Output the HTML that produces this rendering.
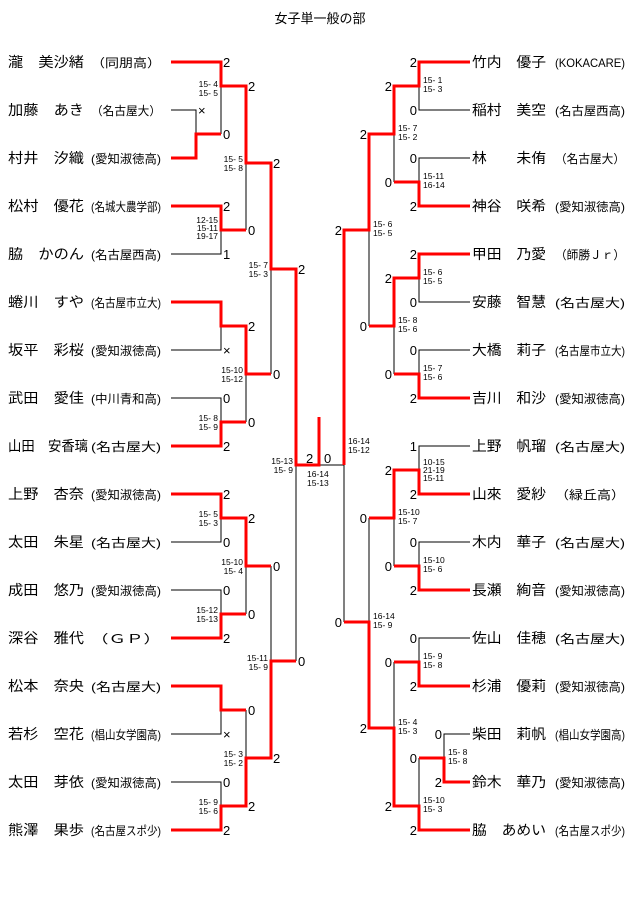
<!DOCTYPE html>
<html><head><meta charset="utf-8"><style>
html,body{margin:0;padding:0;background:#fff;}
svg{display:block;}
text{font-family:"Liberation Sans","Noto Sans CJK JP",sans-serif;fill:#000;}
.n{font-size:14px;}
.a{font-size:12px;}
.s{font-size:13px;}
.l{font-size:8.5px;}
.r{stroke:#f00;stroke-width:3;fill:none;}
.b{stroke:#000;stroke-width:1;fill:none;}
</style></head><body>
<svg width="640" height="897" viewBox="0 0 640 897" xmlns="http://www.w3.org/2000/svg">
<text x="320" y="23" font-size="13" text-anchor="middle">女子単一般の部</text>

<!-- left names -->
<g class="n" lengthAdjust="spacingAndGlyphs">
<text x="8" y="67" textLength="76" lengthAdjust="spacingAndGlyphs">瀧　美沙緒</text>
<text x="8" y="115" textLength="76" lengthAdjust="spacingAndGlyphs">加藤　あき</text>
<text x="8" y="163" textLength="76" lengthAdjust="spacingAndGlyphs">村井　汐織</text>
<text x="8" y="211" textLength="76" lengthAdjust="spacingAndGlyphs">松村　優花</text>
<text x="8" y="259" textLength="76" lengthAdjust="spacingAndGlyphs">脇　かのん</text>
<text x="8" y="307" textLength="76" lengthAdjust="spacingAndGlyphs">蜷川　すや</text>
<text x="8" y="355" textLength="76" lengthAdjust="spacingAndGlyphs">坂平　彩桜</text>
<text x="8" y="403" textLength="76" lengthAdjust="spacingAndGlyphs">武田　愛佳</text>
<text x="8" y="451" textLength="80" lengthAdjust="spacingAndGlyphs">山田　安香璃</text>
<text x="8" y="499" textLength="76" lengthAdjust="spacingAndGlyphs">上野　杏奈</text>
<text x="8" y="547" textLength="76" lengthAdjust="spacingAndGlyphs">太田　朱星</text>
<text x="8" y="595" textLength="76" lengthAdjust="spacingAndGlyphs">成田　悠乃</text>
<text x="8" y="643" textLength="76" lengthAdjust="spacingAndGlyphs">深谷　雅代</text>
<text x="8" y="691" textLength="76" lengthAdjust="spacingAndGlyphs">松本　奈央</text>
<text x="8" y="739" textLength="76" lengthAdjust="spacingAndGlyphs">若杉　空花</text>
<text x="8" y="787" textLength="76" lengthAdjust="spacingAndGlyphs">太田　芽依</text>
<text x="8" y="835" textLength="76" lengthAdjust="spacingAndGlyphs">熊澤　果歩</text>
</g>
<g class="a">
<text x="91" y="67" textLength="70" lengthAdjust="spacingAndGlyphs">（同朋高）</text>
<text x="91" y="115" textLength="70" lengthAdjust="spacingAndGlyphs">（名古屋大）</text>
<text x="91" y="163" textLength="70" lengthAdjust="spacingAndGlyphs">(愛知淑徳高)</text>
<text x="91" y="211" textLength="70" lengthAdjust="spacingAndGlyphs">(名城大農学部)</text>
<text x="91" y="259" textLength="70" lengthAdjust="spacingAndGlyphs">(名古屋西高)</text>
<text x="91" y="307" textLength="70" lengthAdjust="spacingAndGlyphs">(名古屋市立大)</text>
<text x="91" y="355" textLength="70" lengthAdjust="spacingAndGlyphs">(愛知淑徳高)</text>
<text x="91" y="403" textLength="70" lengthAdjust="spacingAndGlyphs">(中川青和高)</text>
<text x="91" y="451" textLength="70" lengthAdjust="spacingAndGlyphs">(名古屋大)</text>
<text x="91" y="499" textLength="70" lengthAdjust="spacingAndGlyphs">(愛知淑徳高)</text>
<text x="91" y="547" textLength="70" lengthAdjust="spacingAndGlyphs">(名古屋大)</text>
<text x="91" y="595" textLength="70" lengthAdjust="spacingAndGlyphs">(愛知淑徳高)</text>
<text x="91" y="643" textLength="70" lengthAdjust="spacingAndGlyphs">（ＧＰ）</text>
<text x="91" y="691" textLength="70" lengthAdjust="spacingAndGlyphs">(名古屋大)</text>
<text x="91" y="739" textLength="70" lengthAdjust="spacingAndGlyphs">(椙山女学園高)</text>
<text x="91" y="787" textLength="70" lengthAdjust="spacingAndGlyphs">(愛知淑徳高)</text>
<text x="91" y="835" textLength="70" lengthAdjust="spacingAndGlyphs">(名古屋スポ少)</text>
</g>

<!-- right names -->
<g class="n">
<text x="472" y="67" textLength="74" lengthAdjust="spacingAndGlyphs">竹内　優子</text>
<text x="472" y="115" textLength="74" lengthAdjust="spacingAndGlyphs">稲村　美空</text>
<text x="472" y="163" textLength="74" lengthAdjust="spacingAndGlyphs">林　　未侑</text>
<text x="472" y="211" textLength="74" lengthAdjust="spacingAndGlyphs">神谷　咲希</text>
<text x="472" y="259" textLength="74" lengthAdjust="spacingAndGlyphs">甲田　乃愛</text>
<text x="472" y="307" textLength="74" lengthAdjust="spacingAndGlyphs">安藤　智慧</text>
<text x="472" y="355" textLength="74" lengthAdjust="spacingAndGlyphs">大橋　莉子</text>
<text x="472" y="403" textLength="74" lengthAdjust="spacingAndGlyphs">吉川　和沙</text>
<text x="472" y="451" textLength="74" lengthAdjust="spacingAndGlyphs">上野　帆瑠</text>
<text x="472" y="499" textLength="74" lengthAdjust="spacingAndGlyphs">山來　愛紗</text>
<text x="472" y="547" textLength="74" lengthAdjust="spacingAndGlyphs">木内　華子</text>
<text x="472" y="595" textLength="74" lengthAdjust="spacingAndGlyphs">長瀬　絢音</text>
<text x="472" y="643" textLength="74" lengthAdjust="spacingAndGlyphs">佐山　佳穂</text>
<text x="472" y="691" textLength="74" lengthAdjust="spacingAndGlyphs">杉浦　優莉</text>
<text x="472" y="739" textLength="74" lengthAdjust="spacingAndGlyphs">柴田　莉帆</text>
<text x="472" y="787" textLength="74" lengthAdjust="spacingAndGlyphs">鈴木　華乃</text>
<text x="472" y="835" textLength="74" lengthAdjust="spacingAndGlyphs">脇　あめい</text>
</g>
<g class="a">
<text x="555" y="67" textLength="70" lengthAdjust="spacingAndGlyphs">(KOKACARE)</text>
<text x="555" y="115" textLength="70" lengthAdjust="spacingAndGlyphs">(名古屋西高)</text>
<text x="555" y="163" textLength="70" lengthAdjust="spacingAndGlyphs">（名古屋大）</text>
<text x="555" y="211" textLength="70" lengthAdjust="spacingAndGlyphs">(愛知淑徳高)</text>
<text x="555" y="259" textLength="70" lengthAdjust="spacingAndGlyphs">（師勝Ｊｒ）</text>
<text x="555" y="307" textLength="70" lengthAdjust="spacingAndGlyphs">(名古屋大)</text>
<text x="555" y="355" textLength="70" lengthAdjust="spacingAndGlyphs">(名古屋市立大)</text>
<text x="555" y="403" textLength="70" lengthAdjust="spacingAndGlyphs">(愛知淑徳高)</text>
<text x="555" y="451" textLength="70" lengthAdjust="spacingAndGlyphs">(名古屋大)</text>
<text x="555" y="499" textLength="70" lengthAdjust="spacingAndGlyphs">（緑丘高）</text>
<text x="555" y="547" textLength="70" lengthAdjust="spacingAndGlyphs">(名古屋大)</text>
<text x="555" y="595" textLength="70" lengthAdjust="spacingAndGlyphs">(愛知淑徳高)</text>
<text x="555" y="643" textLength="70" lengthAdjust="spacingAndGlyphs">(名古屋大)</text>
<text x="555" y="691" textLength="70" lengthAdjust="spacingAndGlyphs">(愛知淑徳高)</text>
<text x="555" y="739" textLength="70" lengthAdjust="spacingAndGlyphs">(椙山女学園高)</text>
<text x="555" y="787" textLength="70" lengthAdjust="spacingAndGlyphs">(愛知淑徳高)</text>
<text x="555" y="835" textLength="70" lengthAdjust="spacingAndGlyphs">(名古屋スポ少)</text>
</g>

<!-- LEFT black lines -->
<g class="b">
<path d="M171 110H196V158"/>
<path d="M221 86V134"/>
<path d="M171 254H221V230"/>
<path d="M246 163V230"/>
<path d="M171 350H221V326"/>
<path d="M171 398H221V422"/>
<path d="M246 374V422"/>
<path d="M271 269V374"/>
<path d="M171 542H221V518"/>
<path d="M171 590H221V614"/>
<path d="M246 566V614"/>
<path d="M171 734H221V710"/>
<path d="M171 782H221V806"/>
<path d="M246 710V758"/>
<path d="M271 566V661"/>
<path d="M296 465V661"/>
<path d="M319 465H344V622"/>
</g>
<!-- LEFT red -->
<g class="r">
<path d="M171 62H221V86H246V163H271V269H296V465H319V417"/>
<path d="M171 158H196V134H221"/>
<path d="M171 206H221V230H246"/>
<path d="M171 302H221V326H246V374H271"/>
<path d="M171 446H221V422H246"/>
<path d="M171 494H221V518H246V566H271"/>
<path d="M171 638H221V614H246"/>
<path d="M171 686H221V710H246"/>
<path d="M171 830H221V806H246V758H271V661H296"/>
</g>

<!-- RIGHT black -->
<g class="b">
<path d="M470 110H419V86"/>
<path d="M470 158H419V182"/>
<path d="M394 134V182"/>
<path d="M470 302H419V278"/>
<path d="M470 350H419V374"/>
<path d="M394 278V374"/>
<path d="M369 230V326"/>
<path d="M470 446H419V470"/>
<path d="M470 542H419V566"/>
<path d="M394 518V566"/>
<path d="M470 638H419V662"/>
<path d="M470 734H444V758"/>
<path d="M419 758V806"/>
<path d="M394 662V728"/>
<path d="M369 518V622"/>
</g>
<g class="r">
<path d="M470 62H419V86H394V134H369V230H344V465"/>
<path d="M470 206H419V182H394"/>
<path d="M470 254H419V278H394V326H369"/>
<path d="M470 398H419V374H394"/>
<path d="M470 494H419V470H394V518H369"/>
<path d="M470 590H419V566H394"/>
<path d="M470 686H419V662H394"/>
<path d="M470 782H444V758H419"/>
<path d="M470 830H419V806H394V728H369V622H344"/>
</g>

<!-- LEFT scores -->
<g class="s">
<text x="223" y="67">2</text><text x="198" y="115">×</text><text x="223" y="139">0</text>
<text x="248" y="91">2</text>
<text x="223" y="211">2</text><text x="223" y="259">1</text><text x="248" y="235">0</text>
<text x="273" y="168">2</text>
<text x="248" y="331">2</text><text x="223" y="355">×</text>
<text x="223" y="403">0</text><text x="223" y="451">2</text><text x="248" y="427">0</text>
<text x="273" y="379">0</text>
<text x="298" y="274">2</text>
<text x="306" y="463">2</text><text x="324" y="463">0</text>
<text x="223" y="499">2</text><text x="223" y="547">0</text><text x="248" y="523">2</text>
<text x="223" y="595">0</text><text x="223" y="643">2</text><text x="248" y="619">0</text>
<text x="273" y="571">0</text>
<text x="248" y="715">0</text><text x="223" y="739">×</text>
<text x="223" y="787">0</text><text x="223" y="835">2</text><text x="248" y="811">2</text>
<text x="273" y="763">2</text>
<text x="298" y="666">0</text>
</g>
<!-- RIGHT scores -->
<g class="s" text-anchor="end">
<text x="417" y="67">2</text><text x="417" y="115">0</text><text x="392" y="91">2</text>
<text x="417" y="163">0</text><text x="417" y="211">2</text><text x="392" y="187">0</text>
<text x="367" y="139">2</text>
<text x="417" y="259">2</text><text x="417" y="307">0</text><text x="392" y="283">2</text>
<text x="417" y="355">0</text><text x="417" y="403">2</text><text x="392" y="379">0</text>
<text x="367" y="331">0</text>
<text x="342" y="235">2</text>
<text x="417" y="451">1</text><text x="417" y="499">2</text><text x="392" y="475">2</text>
<text x="417" y="547">0</text><text x="417" y="595">2</text><text x="392" y="571">0</text>
<text x="367" y="523">0</text>
<text x="417" y="643">0</text><text x="417" y="691">2</text><text x="392" y="667">0</text>
<text x="442" y="739">0</text><text x="442" y="787">2</text><text x="417" y="763">0</text>
<text x="417" y="835">2</text><text x="392" y="811">2</text>
<text x="367" y="733">2</text>
<text x="342" y="627">0</text>
</g>

<!-- LEFT game labels -->
<g class="l" text-anchor="end">
<text x="218" y="87">15- 4</text><text x="218" y="96">15- 5</text>
<text x="218" y="223">12-15</text><text x="218" y="231">15-11</text><text x="218" y="239">19-17</text>
<text x="243" y="162">15- 5</text><text x="243" y="171">15- 8</text>
<text x="268" y="268">15- 7</text><text x="268" y="277">15- 3</text>
<text x="243" y="373">15-10</text><text x="243" y="382">15-12</text>
<text x="218" y="421">15- 8</text><text x="218" y="430">15- 9</text>
<text x="293" y="464">15-13</text><text x="293" y="473">15- 9</text>
<text x="218" y="517">15- 5</text><text x="218" y="526">15- 3</text>
<text x="243" y="565">15-10</text><text x="243" y="574">15- 4</text>
<text x="218" y="613">15-12</text><text x="218" y="622">15-13</text>
<text x="268" y="661">15-11</text><text x="268" y="670">15- 9</text>
<text x="243" y="757">15- 3</text><text x="243" y="766">15- 2</text>
<text x="218" y="805">15- 9</text><text x="218" y="814">15- 6</text>
</g>
<g class="l">
<text x="307" y="477">16-14</text><text x="307" y="486">15-13</text>
<text x="348" y="444">16-14</text><text x="348" y="453">15-12</text>
<text x="423" y="83">15- 1</text><text x="423" y="92">15- 3</text>
<text x="398" y="131">15- 7</text><text x="398" y="140">15- 2</text>
<text x="423" y="179">15-11</text><text x="423" y="188">16-14</text>
<text x="373" y="227">15- 6</text><text x="373" y="236">15- 5</text>
<text x="423" y="275">15- 6</text><text x="423" y="284">15- 5</text>
<text x="398" y="323">15- 8</text><text x="398" y="332">15- 6</text>
<text x="423" y="371">15- 7</text><text x="423" y="380">15- 6</text>
<text x="423" y="465">10-15</text><text x="423" y="473">21-19</text><text x="423" y="481">15-11</text>
<text x="398" y="515">15-10</text><text x="398" y="524">15- 7</text>
<text x="423" y="563">15-10</text><text x="423" y="572">15- 6</text>
<text x="373" y="619">16-14</text><text x="373" y="628">15- 9</text>
<text x="423" y="659">15- 9</text><text x="423" y="668">15- 8</text>
<text x="398" y="725">15- 4</text><text x="398" y="734">15- 3</text>
<text x="448" y="755">15- 8</text><text x="448" y="764">15- 8</text>
<text x="423" y="803">15-10</text><text x="423" y="812">15- 3</text>
</g>
</svg>
</body></html>
